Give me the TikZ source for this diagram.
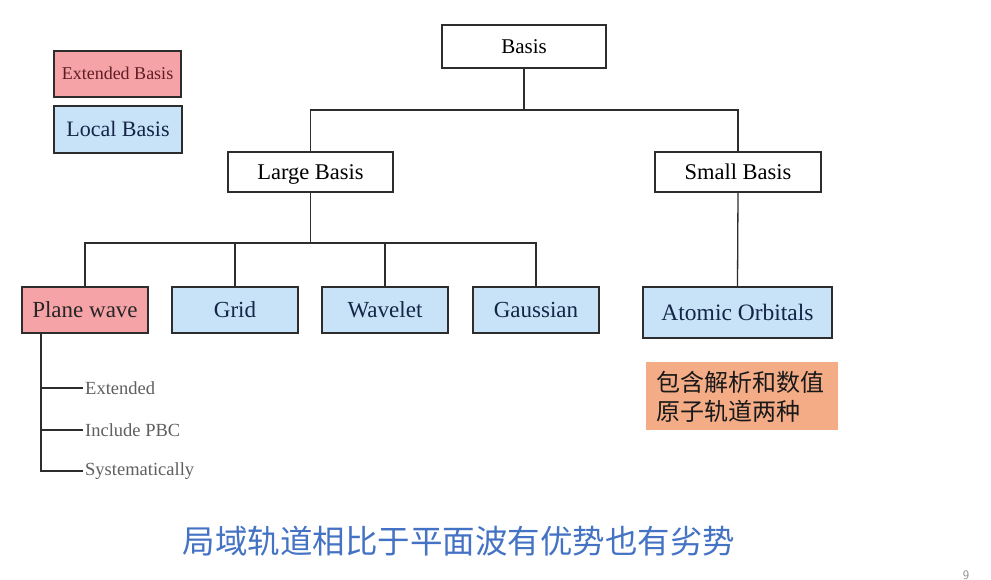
\documentclass[tikz,border=0pt]{standalone}
\usepackage{fontspec}
\setmainfont{Liberation Serif}
\newfontfamily\cjk{Noto Sans CJK SC}
\definecolor{bdr}{RGB}{45,45,45}
\definecolor{pinkfill}{RGB}{246,163,168}
\definecolor{bluefill}{RGB}{200,226,248}
\definecolor{orangefill}{RGB}{244,172,135}
\definecolor{navy}{RGB}{20,38,70}
\definecolor{darkred}{RGB}{95,30,35}
\definecolor{subgray}{RGB}{95,95,95}
\definecolor{captblue}{RGB}{68,114,196}
\tikzset{
  box/.style={draw=bdr, line width=1.6pt, inner sep=0pt, text height=18pt, text depth=3pt, font=\fontsize{22.5}{26}\selectfont},
  plainbox/.style={box, fill=white, text=black},
  pinkbox/.style={box, fill=pinkfill, text=black!85},
  bluebox/.style={box, fill=bluefill, text=navy},
  conn/.style={draw=bdr, line width=1.3pt},
  subitem/.style={anchor=west, inner sep=2pt, text=subgray, font=\fontsize{18.5}{22}\selectfont},
}
\begin{document}
\begin{tikzpicture}[x=1pt,y=-1pt]
\useasboundingbox (0,0) rectangle (991,580);
\fill[white] (0,0) rectangle (991,580);
% legend
\node[pinkbox, minimum width=127pt, minimum height=46pt, text=darkred, text height=14.5pt, text depth=2.5pt, font=\fontsize{18}{21}\selectfont] (legext) at (117.5,74) {Extended Basis};
\node[bluebox, minimum width=128pt, minimum height=47pt, font=\fontsize{22}{25}\selectfont] (legloc) at (118,129.5) {Local Basis};
% tree
\node[plainbox, minimum width=164pt, minimum height=43pt, font=\fontsize{21}{24}\selectfont] (basis) at (524,46.5) {Basis};
\node[plainbox, minimum width=165pt, minimum height=40pt] (large) at (310.5,172) {Large Basis};
\node[plainbox, minimum width=166pt, minimum height=40pt] (small) at (738,172) {Small Basis};
\node[pinkbox, minimum width=126pt, minimum height=46pt, font=\fontsize{23}{26}\selectfont] (pw) at (85,310) {Plane wave};
\node[bluebox, minimum width=126pt, minimum height=46pt, font=\fontsize{23}{26}\selectfont] (grid) at (235,310) {Grid};
\node[bluebox, minimum width=126pt, minimum height=46pt, font=\fontsize{23}{26}\selectfont] (wave) at (385,310) {Wavelet};
\node[bluebox, minimum width=126pt, minimum height=46pt, font=\fontsize{23}{26}\selectfont] (gauss) at (536,310) {Gaussian};
\node[bluebox, minimum width=189pt, minimum height=51pt, font=\fontsize{23.5}{26}\selectfont] (ao) at (737.5,312.5) {Atomic Orbitals};
\coordinate (j1) at (524,110);
\coordinate (j2) at (310.5,243);
\draw[conn] (basis.south) -- (basis.south |- j1);
\draw[conn] (large.north) -- (large.north |- j1) -- (small.north |- j1) -- (small.north);
\draw[conn] (large.south) -- (large.south |- j2);
\draw[conn] (pw.north) -- (pw.north |- j2) -- (gauss.north |- j2) -- (gauss.north);
\draw[conn] (grid.north) -- (grid.north |- j2);
\draw[conn] (wave.north) -- (wave.north |- j2);
\draw[conn] (small.south) -- (ao.north);
% plane wave sub items
\node[subitem] (ext) at (83,388) {Extended};
\node[subitem] (pbc) at (83,430) {Include PBC};
\node[subitem] (sys) at (83,471) {Systematically};
\coordinate (t0) at (41,333);
\draw[conn] (t0) |- (sys.west);
\draw[conn] (t0 |- ext.west) -- (ext.west);
\draw[conn] (t0 |- pbc.west) -- (pbc.west);
% orange note
\node[fill=orangefill, minimum width=192pt, minimum height=68pt, inner sep=0pt] (note) at (742,396) {};
\node[anchor=west, inner sep=0pt, align=left, font=\cjk\fontsize{24}{29}\selectfont, text=black!90] (notetext) at (656,397) {包含解析和数值\\原子轨道两种};
% caption
\node[text=captblue, font=\cjk\fontsize{32.5}{36}\selectfont, inner sep=0pt] (cap) at (459,541) {局域轨道相比于平面波有优势也有劣势};
\node[text=black!45, font=\sffamily\fontsize{13}{15}\selectfont, inner sep=0pt] (pg) at (966,575) {9};
\end{tikzpicture}
\end{document}
